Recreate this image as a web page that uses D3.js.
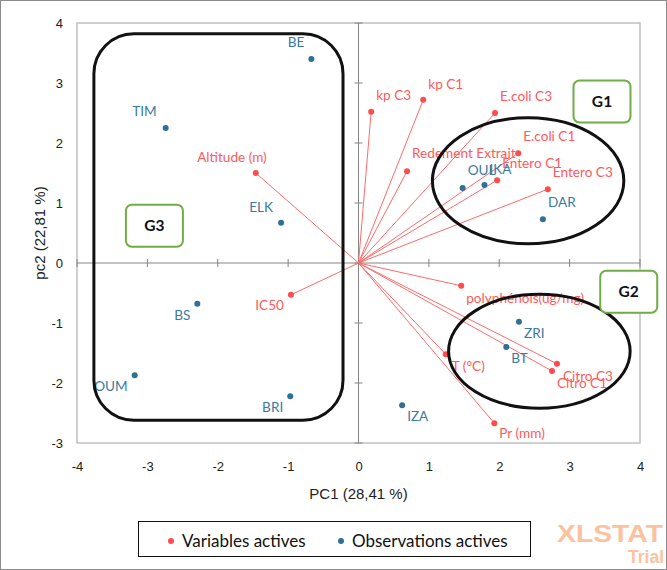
<!DOCTYPE html>
<html><head><meta charset="utf-8">
<script src="https://cdn.jsdelivr.net/npm/d3@7"></script>
<style>html,body{margin:0;padding:0;background:#fff;}svg{display:block;}</style>
</head><body>
<script>
// ---- data ----
const xTicks = [-4,-3,-2,-1,0,1,2,3,4];
const yTicks = [-3,-2,-1,0,1,2,3,4];
const xTitle = "PC1 (28,41 %)";
const yTitle = "pc2 (22,81 %)";

const varNames = ["kp C3","kp C1","E.coli C3","Redement Extrait","E.coli C1","Entero C1","Entero C3","Altitude (m)","IC50","polyphénols(ug/mg)","T (°C)","Citro C3","Citro C1","Pr (mm)"];
const varX = [0.18,0.92,1.94,0.69,2.27,1.97,2.69,-1.46,-0.96,1.46,1.24,2.82,2.75,1.93];
const varY = [2.52,2.72,2.50,1.53,1.83,1.38,1.23,1.50,-0.53,-0.38,-1.52,-1.68,-1.80,-2.67];

const obsNames = ["BE","TIM","ELK","BS","OUM","BRI","IZA","BT","ZRI","OUL","IKA","DAR"];
const obsX = [-0.67,-2.74,-1.10,-2.29,-3.18,-0.97,0.62,2.10,2.28,1.48,1.79,2.62];
const obsY = [3.40,2.25,0.67,-0.68,-1.87,-2.22,-2.37,-1.40,-0.98,1.25,1.30,0.73];

const legendLabels = ["Variables actives","Observations actives"];

// group annotations (data coordinates)
const groupNames = ["G1","G2","G3"];
const ellipseCX = [2.41, 2.57];
const ellipseCY = [1.37, -1.47];
const ellipseRX = [1.36, 1.29];
const ellipseRY = [1.05, 0.95];
const roundRect = {x0:-3.76, x1:-0.22, y0:3.82, y1:-2.62};
const tagCX = [3.46, 3.84, -2.90];
const tagCY = [2.70, -0.47, 0.63];

// ---- layout ----
const W = 667, H = 570;
const RED = "#ff4b4b", RED_T = "#ff5a5a", BLUE = "#2e7096", BLUE_T = "#3a7aa0";
const labelFont = "Lato, 'Open Sans', sans-serif";
const axisFont = "'Liberation Sans', Arial, sans-serif";

const svg = d3.select("body").append("svg").attr("width", W).attr("height", H);
svg.append("rect").attr("x",0.5).attr("y",0.5).attr("width",W-1).attr("height",H-1)
  .attr("fill","#fff").attr("stroke","#8c8c8c");

const x = d3.scaleLinear().domain([-4,4]).range([77,640]);
const y = d3.scaleLinear().domain([-3,4]).range([443,23]);

// plot frame
svg.append("rect").attr("x",x(-4)).attr("y",y(4)).attr("width",x(4)-x(-4)).attr("height",y(-3)-y(4))
  .attr("fill","none").attr("stroke","#c0c0c0").attr("stroke-width",1.5);

// tick labels
const fmt = d => String(d);
const xAxis = d3.axisBottom(x).tickValues(xTicks).tickSize(0).tickPadding(0).tickFormat(fmt);
const gx = svg.append("g").attr("transform",`translate(0,${y(-3)+28})`).call(xAxis);
gx.select(".domain").remove();
gx.selectAll("text").attr("font-family",axisFont).attr("font-size",13).attr("fill","#222").attr("dy","0");
const yAxis = d3.axisLeft(y).tickValues(yTicks).tickSize(0).tickPadding(0).tickFormat(fmt);
const gy = svg.append("g").attr("transform",`translate(${x(-4)-14},0)`).call(yAxis);
gy.select(".domain").remove();
gy.selectAll("text").attr("font-family",axisFont).attr("font-size",13).attr("fill","#222");

// zero axes
const zx = x(0), zy = y(0);
svg.append("line").attr("x1",x(-4)).attr("x2",x(4)).attr("y1",zy).attr("y2",zy).attr("stroke","#858585");
svg.append("line").attr("x1",zx).attr("x2",zx).attr("y1",y(4)).attr("y2",y(-3)).attr("stroke","#858585");
svg.selectAll(".ytk").data(yTicks).enter().append("line")
  .attr("x1",zx-4).attr("x2",zx+4).attr("y1",d=>y(d)).attr("y2",d=>y(d)).attr("stroke","#858585");
svg.selectAll(".xtk").data(xTicks).enter().append("line")
  .attr("x1",d=>x(d)).attr("x2",d=>x(d)).attr("y1",zy-4).attr("y2",zy+4).attr("stroke","#858585");

// axis titles
svg.append("text").attr("x",(x(-4)+x(4))/2).attr("y",499).attr("text-anchor","middle")
  .attr("font-family",axisFont).attr("font-size",15).attr("fill","#222").text(xTitle);
svg.append("text").attr("transform",`translate(45,${(y(4)+y(-3))/2}) rotate(-90)`).attr("text-anchor","middle")
  .attr("font-family",axisFont).attr("font-size",15).attr("fill","#222").text(yTitle);

// variables
const vars = varNames.map((n,i)=>({n, x:varX[i], y:varY[i]}));
const obs = obsNames.map((n,i)=>({n, x:obsX[i], y:obsY[i]}));

svg.selectAll(".vline").data(vars).enter().append("line")
  .attr("x1",zx).attr("y1",zy).attr("x2",d=>x(d.x)).attr("y2",d=>y(d.y))
  .attr("stroke","#ff6a6a").attr("stroke-width",1);

function placeLabels(sel, color, extra){
  sel.attr("x",d=>x(d.x) + (d.x<0 ? -7 : 5) + ((extra[d.n]||[0,0])[0]))
     .attr("y",d=>y(d.y) + (d.y>0 ? -17 : 11) + ((extra[d.n]||[0,0])[1]))
     .attr("dy","0.35em")
     .attr("text-anchor",d=>d.x<0 ? "end" : "start")
     .attr("font-family",labelFont).attr("font-size",13.6).attr("fill",color)
     .text(d=>d.n);
}
const varLabelShift = {"Altitude (m)":[18,1], "Redement Extrait":[0,-1], "IC50":[0,-1], "polyphénols(ug/mg)":[0,1], "T (°C)":[1,1], "Citro C3":[1,1], "Citro C1":[0,1], "Pr (mm)":[0,-1], "kp C1":[0,1]};
const obsLabelShift = {"ELK":[-1,1], "TIM":[-2,0], "OUL":[0,-1], "IKA":[0,1]};

placeLabels(svg.selectAll(".vlab").data(vars).enter().append("text"), RED_T, varLabelShift);
placeLabels(svg.selectAll(".olab").data(obs).enter().append("text"), BLUE_T, obsLabelShift);

svg.selectAll(".vdot").data(vars).enter().append("circle")
  .attr("cx",d=>x(d.x)).attr("cy",d=>y(d.y)).attr("r",3).attr("fill",RED);
svg.selectAll(".odot").data(obs).enter().append("circle")
  .attr("cx",d=>x(d.x)).attr("cy",d=>y(d.y)).attr("r",3).attr("fill",BLUE);

// annotations
svg.selectAll(".ell").data(ellipseCX).enter().append("ellipse")
  .attr("cx",(d,i)=>x(ellipseCX[i])).attr("cy",(d,i)=>y(ellipseCY[i]))
  .attr("rx",(d,i)=>x(ellipseRX[i])-x(0)).attr("ry",(d,i)=>y(0)-y(ellipseRY[i]))
  .attr("fill","none").attr("stroke","#111").attr("stroke-width",3);
svg.append("rect").attr("x",x(roundRect.x0)).attr("y",y(roundRect.y0))
  .attr("width",x(roundRect.x1)-x(roundRect.x0)).attr("height",y(roundRect.y1)-y(roundRect.y0))
  .attr("rx",40).attr("ry",40).attr("fill","none").attr("stroke","#111").attr("stroke-width",3);
const tags = svg.selectAll(".tag").data(groupNames).enter().append("g")
  .attr("transform",(d,i)=>`translate(${x(tagCX[i])},${y(tagCY[i])})`);
tags.append("rect").attr("x",-28.5).attr("y",-20.5).attr("width",57).attr("height",42).attr("rx",6)
  .attr("fill","#fff").attr("stroke","#70ad47").attr("stroke-width",2);
tags.append("text").attr("text-anchor","middle").attr("dy","0.36em")
  .attr("font-family",labelFont).attr("font-weight","bold").attr("font-size",15.5).attr("fill","#111").text(d=>d);

// legend
const lg = svg.append("g");
lg.append("rect").attr("x",138.5).attr("y",521.5).attr("width",392).attr("height",35)
  .attr("fill","#fff").attr("stroke","#111").attr("stroke-width",1);
const legendColors = [RED, BLUE];
const legendX = [171, 341];
legendLabels.forEach((t,i)=>{
  lg.append("circle").attr("cx",legendX[i]).attr("cy",541).attr("r",3).attr("fill",legendColors[i]);
  lg.append("text").attr("x",legendX[i]+11).attr("y",541).attr("dy","0.35em")
    .attr("font-family",labelFont).attr("font-size",17).attr("fill","#111").text(t);
});

// watermark
svg.append("text").attr("x",557).attr("y",542)
  .attr("font-family",axisFont).attr("font-weight","900").attr("font-size",24)
  .attr("textLength",106).attr("lengthAdjust","spacingAndGlyphs")
  .attr("fill","#fcc2a0").text("XLSTAT");
svg.append("text").attr("x",628).attr("y",563)
  .attr("font-family",axisFont).attr("font-weight","bold").attr("font-size",19)
  .attr("textLength",36).attr("lengthAdjust","spacingAndGlyphs")
  .attr("fill","#fcc2a0").text("Trial");
</script>
</body></html>
